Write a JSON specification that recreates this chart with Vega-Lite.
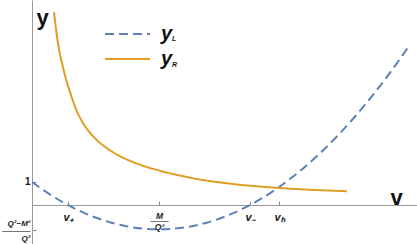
{
  "$schema": "https://vega.github.io/schema/vega-lite/v6.json",
  "width": 385,
  "height": 244,
  "padding": {"left": 32, "top": 0, "right": 0, "bottom": 0},
  "autosize": {"type": "none"},
  "background": "white",
  "config": {"view": {"stroke": null}, "font": "Liberation Sans"},
  "layer": [
    {
      "data": {"values": [
        {"series": "yL", "v": 0.0, "val": 1.0},
        {"series": "yL", "v": 0.125, "val": 0.517},
        {"series": "yL", "v": 0.25, "val": 0.099},
        {"series": "yL", "v": 0.375, "val": -0.255},
        {"series": "yL", "v": 0.5, "val": -0.545},
        {"series": "yL", "v": 0.625, "val": -0.77},
        {"series": "yL", "v": 0.75, "val": -0.931},
        {"series": "yL", "v": 0.875, "val": -1.028},
        {"series": "yL", "v": 1.0, "val": -1.06},
        {"series": "yL", "v": 1.125, "val": -1.028},
        {"series": "yL", "v": 1.25, "val": -0.931},
        {"series": "yL", "v": 1.375, "val": -0.77},
        {"series": "yL", "v": 1.5, "val": -0.545},
        {"series": "yL", "v": 1.625, "val": -0.255},
        {"series": "yL", "v": 1.75, "val": 0.099},
        {"series": "yL", "v": 1.875, "val": 0.517},
        {"series": "yL", "v": 2.0, "val": 1.0},
        {"series": "yL", "v": 2.125, "val": 1.547},
        {"series": "yL", "v": 2.25, "val": 2.159},
        {"series": "yL", "v": 2.375, "val": 2.835},
        {"series": "yL", "v": 2.5, "val": 3.575},
        {"series": "yL", "v": 2.625, "val": 4.38},
        {"series": "yL", "v": 2.75, "val": 5.249},
        {"series": "yL", "v": 2.875, "val": 6.182},
        {"series": "yL", "v": 2.976, "val": 6.98},
        {"series": "yR", "v": 0.173, "val": 8.39},
        {"series": "yR", "v": 0.2, "val": 7.2},
        {"series": "yR", "v": 0.25, "val": 5.85},
        {"series": "yR", "v": 0.3, "val": 4.9},
        {"series": "yR", "v": 0.35, "val": 4.12},
        {"series": "yR", "v": 0.4, "val": 3.58},
        {"series": "yR", "v": 0.45, "val": 3.18},
        {"series": "yR", "v": 0.5, "val": 2.88},
        {"series": "yR", "v": 0.6, "val": 2.43},
        {"series": "yR", "v": 0.7, "val": 2.1},
        {"series": "yR", "v": 0.8, "val": 1.86},
        {"series": "yR", "v": 0.9, "val": 1.66},
        {"series": "yR", "v": 1.0, "val": 1.5},
        {"series": "yR", "v": 1.1, "val": 1.36},
        {"series": "yR", "v": 1.2, "val": 1.24},
        {"series": "yR", "v": 1.3, "val": 1.13},
        {"series": "yR", "v": 1.4, "val": 1.04},
        {"series": "yR", "v": 1.5, "val": 0.97},
        {"series": "yR", "v": 1.6, "val": 0.9},
        {"series": "yR", "v": 1.8, "val": 0.8},
        {"series": "yR", "v": 2.0, "val": 0.72},
        {"series": "yR", "v": 2.2, "val": 0.66},
        {"series": "yR", "v": 2.48, "val": 0.6}
      ]},
      "mark": {"type": "line", "strokeWidth": 2, "interpolate": "monotone", "clip": true},
      "encoding": {
        "x": {
          "field": "v", "type": "quantitative",
          "scale": {"domain": [0, 3.031], "nice": false, "zero": false},
          "axis": {
            "orient": "bottom", "offset": -39, "grid": false,
            "values": [0.2835, 1, 1.7165, 1.945],
            "labelExpr": "datum.value < 0.5 ? 'v₊' : datum.value < 1.5 ? ['M', '───', 'Q²'] : datum.value < 1.8 ? 'v₋' : 'vₕ'",
            "labelFont": "Liberation Sans", "labelFontWeight": "bold", "labelFontStyle": "italic",
            "labelFontSize": {"condition": {"test": "datum.value == 1", "value": 8.5}, "value": 11},
            "labelColor": "#222", "labelLineHeight": 5.5,
            "labelPadding": 10, "labelBaseline": "top",
            "tickSize": -4, "tickColor": "#888", "domainColor": "#999", "domainWidth": 1,
            "title": "v", "titleFont": "Liberation Sans", "titleFontWeight": "bold", "titleFontSize": 22,
            "titleColor": "#111", "titleX": 364, "titleY": -1, "titleAlign": "center", "titleBaseline": "alphabetic",
            "labelOverlap": false
          }
        },
        "y": {
          "field": "val", "type": "quantitative",
          "scale": {"domain": [-1.696, 8.913], "nice": false, "zero": false},
          "axis": {
            "orient": "left", "grid": false,
            "values": [1, -1.087],
            "labelExpr": "datum.value > 0 ? '1' : ['Q²−M²', '─────', 'Q²\u2002\u2002']",
            "labelFont": "Liberation Sans", "labelFontWeight": "bold",
            "labelFontStyle": {"condition": {"test": "datum.value > 0", "value": "normal"}, "value": "italic"},
            "labelFontSize": {"condition": {"test": "datum.value > 0", "value": 10}, "value": 8},
            "labelOffset": {"condition": {"test": "datum.value > 0", "value": 0}, "value": -6},
            "labelColor": "#222", "labelLineHeight": 7.5,
            "labelPadding": 6, "labelAlign": "right",
            "tickSize": -4, "tickColor": "#888", "domainColor": "#999", "domainWidth": 1,
            "title": "y", "titleFont": "Liberation Sans", "titleFontWeight": "bold", "titleFontSize": 22,
            "titleColor": "#111", "titleAngle": 0, "titleX": 4, "titleY": 24, "titleAlign": "left", "titleBaseline": "alphabetic",
            "labelOverlap": false
          }
        },
        "color": {
          "field": "series", "type": "nominal",
          "scale": {"domain": ["yL", "yR"], "range": ["#5E81B5", "#E09C24"]},
          "legend": {
            "orient": "none", "legendX": 72, "legendY": 23, "title": null, "padding": 0,
            "symbolType": "stroke", "symbolSize": 2025, "symbolStrokeWidth": 2, "clipHeight": 22,
            "labelExpr": "'y'", "labelFont": "Liberation Sans", "labelFontWeight": "bold", "labelFontStyle": "italic",
            "labelFontSize": 20, "labelColor": "#111", "labelOffset": 10, "rowPadding": 3
          }
        },
        "strokeDash": {
          "field": "series", "type": "nominal",
          "scale": {"domain": ["yL", "yR"], "range": [[9, 5], [1, 0]]},
          "legend": {
            "orient": "none", "legendX": 72, "legendY": 23, "title": null, "padding": 0,
            "symbolType": "stroke", "symbolSize": 2025, "symbolStrokeWidth": 2, "clipHeight": 22,
            "labelExpr": "'y'", "labelFont": "Liberation Sans", "labelFontWeight": "bold", "labelFontStyle": "italic",
            "labelFontSize": 20, "labelColor": "#111", "labelOffset": 10, "rowPadding": 3
          }
        }
      }
    },
    {
      "data": {"values": []},
      "mark": {"type": "point", "opacity": 0},
      "encoding": {
        "x": {"field": "v", "type": "quantitative"},
        "y": {"field": "val", "type": "quantitative"},
        "shape": {
          "field": "sub", "type": "nominal",
          "scale": {"domain": ["L", "R"]},
          "legend": {
            "orient": "none", "legendX": 133, "legendY": 35.5, "title": null, "padding": 0,
            "symbolSize": 1, "symbolOpacity": 0, "symbolStrokeWidth": 0,
            "labelFont": "Liberation Sans", "labelFontWeight": "bold", "labelFontStyle": "italic",
            "labelFontSize": 7, "labelColor": "#111", "labelOffset": 0, "rowPadding": 18
          }
        }
      }
    }
  ]
}
